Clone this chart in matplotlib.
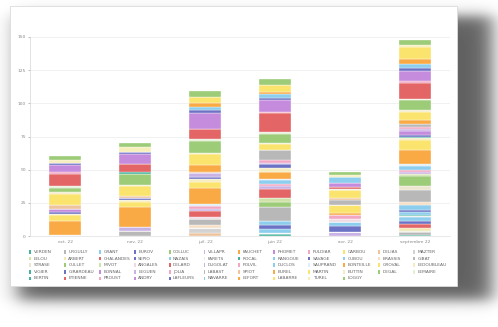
import numpy as np
import matplotlib
matplotlib.use("Agg")
import matplotlib.pyplot as plt
from matplotlib.patches import Rectangle

# ---- data -------------------------------------------------------------
months = ["oct. 22", "nov. 22", "juil. 22", "juin 22", "avr. 22", "septembre 22"]

names = [
    "VERDEN", "URGULLY", "GRANT", "EUROV", "COLLUC", "VILLAPR",
    "FAUCHET", "PHOMET", "PULDIAR", "CARBOU", "DELIAS", "MAZTER",
    "LELOU", "ARBERT", "CHALANDES", "SEPIO", "NAZAIS", "FARETS",
    "ROCAL", "RANGOUE", "SAVAGE", "CUBOU", "BRASSIS", "GIBAT",
    "STRASE", "CULLET", "MIVOT", "ANGALES", "DELARD", "DUGOLAT",
    "POLVIL", "DUCLOS", "SAUPRAND", "BONTEILLE", "GROVAL", "LEDOUBLEAU",
    "VIGIER", "GIRARDEAU", "BONNAL", "LEGUEN", "JOLIA", "LABAST",
    "SPIOT", "BUREL", "MARTIN", "BUTTIN", "DEGAL", "LEMAIRE",
    "BERTIN", "ETIENNE", "PROUST", "ANDRY", "LAFLEURS", "NAVARRE",
    "LEFORT", "LABARRE", "TUREL", "LOGGY",
]

colors = [
    "#45b29d", "#b8b8b8", "#8dcdee", "#6c72c4", "#9dcc78", "#c9b3e6",
    "#f9aa45", "#c58bdc", "#f2a7c3", "#fbe46e", "#eec49d", "#d3d3d3",
    "#cfe3a8", "#f3e8b5", "#e36566", "#6c72c4", "#8dcdee", "#e9e9e9",
    "#45b29d", "#8dcdee", "#6c72c4", "#8dcdee", "#f6dfc4", "#b8b8b8",
    "#ece5cf", "#9dcc78", "#cfe3a8", "#f1d9e2", "#e36566", "#c9b3e6",
    "#f2a7c3", "#8dcdee", "#dfeef7", "#f9aa45", "#fbe46e", "#f5edc0",
    "#45b29d", "#6c72c4", "#c58bdc", "#c9b3e6", "#f2a7c3", "#b8b8b8",
    "#eec49d", "#f9aa45", "#fbe46e", "#f4eccb", "#9dcc78", "#e4efd7",
    "#45b29d", "#e36566", "#f2a7c3", "#c58bdc", "#6c72c4", "#8dcdee",
    "#f9aa45", "#fbe46e", "#f7efb9", "#9dcc78",
]

oct_22 = [
    0, 0, 0, 0, 0, 0, 0, 0, 0, 0,
    0, 0.5, 0, 0, 0, 0, 0, 0, 0, 0,
    0, 0, 0, 0, 0, 0, 0, 0, 0, 0,
    0, 0, 0, 10.5, 4.5, 1, 0, 1.5, 2.5, 0,
    0, 0, 3, 0, 8.5, 1, 3, 1.5, 0, 9.5,
    1, 5.5, 1.5, 0, 0, 0, 2.5, 2.5,
]
nov_22 = [
    0, 0, 0, 0, 0, 0, 0, 0, 0, 0,
    0, 0, 0, 0, 0, 0, 0, 0, 0, 0,
    0, 0, 0, 4, 0, 0, 0, 0, 0, 3,
    0, 0, 0, 15, 4, 1.5, 0, 1.5, 0, 0,
    0, 0, 1.5, 0, 7, 1, 8, 0, 1.5, 6,
    0, 8, 1.5, 0, 0, 0, 3.5, 3,
]
juil_22 = [
    0, 0, 0, 0, 0, 0, 0, 0, 0, 0,
    2, 4, 0, 0, 0, 0, 0, 0, 0, 0,
    0, 0, 2, 4.5, 0, 0, 0, 2, 4, 2,
    2, 0, 1.5, 12, 5, 2, 0, 1.5, 0, 3,
    0, 0, 1, 5, 8, 1, 9, 1.5, 0, 8,
    0, 12, 2, 2.5, 3, 4.5, 0, 4,
]
juin_22 = [
    1.5, 0, 1, 0, 0, 0, 0, 0, 0, 0,
    0, 0, 0, 0, 0, 0, 0, 0, 0, 2.5,
    3, 3, 0, 11, 0, 4, 2.5, 0, 7, 2,
    2, 2.5, 1, 5, 0, 3, 0, 3, 0, 1,
    2.5, 7, 0, 0, 4.5, 1, 7, 1.5, 0, 14,
    1, 9, 1.5, 3, 1.5, 5, 0.5, 4,
]
avr_22 = [
    0, 0, 0, 0, 0, 3, 0, 0, 0, 0,
    0, 0, 0, 0, 0, 0, 0, 0, 0, 0,
    4.5, 3, 0, 0, 0, 0, 0, 2, 0, 0,
    3, 0, 0, 1.5, 6, 0, 0, 0, 0, 0,
    0, 4.5, 1, 0, 6, 0, 0, 1, 0, 1.5,
    0, 3, 0, 4.5, 0, 0, 1.5, 2,
]
sept_22 = [
    1, 2, 0, 0, 1, 0, 0, 0, 0, 0,
    0, 0, 0, 2, 3, 2, 3, 1, 1, 2,
    1.5, 4, 2, 9, 3, 8, 1, 0, 0, 2,
    1, 3, 2, 10, 7.5, 1.5, 1, 1.5, 3, 1.5,
    2, 2, 0, 3, 6, 1.5, 7.5, 1, 0, 12,
    1.5, 7.5, 2, 3, 4, 9, 1.5, 4,
]

yticks = [0, 25, 50, 75, 100, 125, 150]

# ---- figure -------------------------------------------------------------
W, H = 498, 327
fig = plt.figure(figsize=(W / 100, H / 100), dpi=100)
fig.patch.set_facecolor("white")

# backdrop layer in pixel coordinates: soft drop shadow + white card
bg = fig.add_axes([0, 0, 1, 1])
bg.set_xlim(0, W)
bg.set_ylim(H, 0)
bg.axis("off")


def band(v, a, b, s):
    return 0.5 * (np.tanh((v - a) / s) - np.tanh((v - b) / s))


xs = np.arange(W) + 0.5
ys = np.arange(H) + 0.5
shade = 0.62 * np.outer(band(ys, 16, 300, 8), band(xs, 18, 492, 12))
bg.imshow(1 - shade, cmap="gray", vmin=0, vmax=1, extent=[0, W, H, 0],
          aspect="auto", interpolation="bilinear", zorder=0)
bg.add_patch(Rectangle((10, 6), 447, 280, facecolor="white",
                       edgecolor="#dcdcdc", linewidth=0.6, zorder=1))

# ---- stacked bars -------------------------------------------------------
ax = fig.add_axes([30 / W, 1 - 236 / H, 420 / W, 199 / H])
ax.patch.set_alpha(0)

table = np.array([oct_22, nov_22, juil_22, juin_22, avr_22, sept_22])
x = np.arange(len(months))
bottom = np.zeros(len(months))
for i, (name, col) in enumerate(zip(names, colors)):
    vals = table[:, i]
    ax.bar(x, vals, width=0.47, bottom=bottom, color=col,
           edgecolor="white", linewidth=0.25, zorder=3)
    bottom += vals

ax.set_xlim(-0.5, len(months) - 0.5)
ax.set_ylim(0, 150)
ax.set_yticks(yticks)
ax.set_yticklabels([str(v) for v in yticks])
ax.set_xticks(x)
ax.set_xticklabels(months)
ax.tick_params(axis="both", labelsize=3.2, colors="#888888", length=1.5,
               width=0.4, pad=1.5)
ax.tick_params(axis="x", length=0, pad=3)
ax.grid(axis="y", color="#ececec", linewidth=0.5, zorder=0)
for side in ("top", "right"):
    ax.spines[side].set_visible(False)
ax.spines["left"].set_color("#d6d6d6")
ax.spines["left"].set_linewidth(0.5)
ax.spines["bottom"].set_color("#e0e0e0")
ax.spines["bottom"].set_linewidth(0.5)

# ---- legend grid (12 per row) -------------------------------------------
for k, (name, col) in enumerate(zip(names, colors)):
    row, c = divmod(k, 12)
    px = 30 + c * 34.9
    py = 252 + row * 6.6
    bg.add_patch(Rectangle((px - 0.9, py - 1.8), 1.8, 3.6, facecolor=col,
                           edgecolor="none", zorder=2))
    bg.text(px + 3.5, py, name, fontsize=3.2, color="#666666",
            va="center", ha="left", zorder=2)

fig.savefig("out.png", dpi=100)
